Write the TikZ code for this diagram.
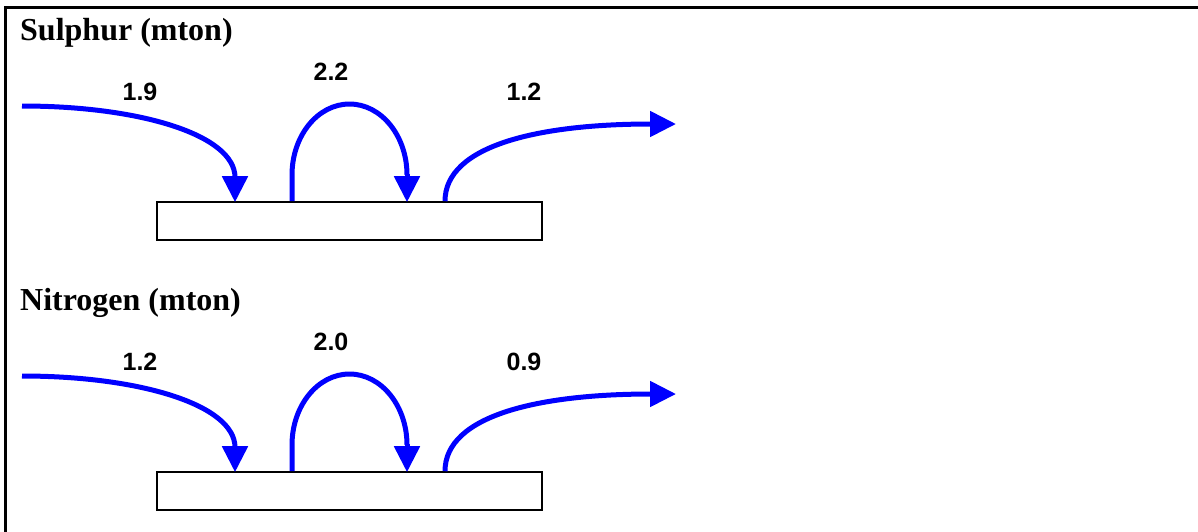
\documentclass[tikz,border=0pt]{standalone}
\usepackage{fontspec}
\setmainfont{Liberation Serif}
\newfontfamily\numfont{Liberation Sans}
\usetikzlibrary{arrows.meta}
\tikzset{
  flow/.style={draw={rgb,255:red,0;green,0;blue,255}, line width=5pt,
    -{Triangle[length=26pt,width=25pt]}},
  flowplain/.style={draw={rgb,255:red,0;green,0;blue,255}, line width=5pt},
  title/.style={anchor=base west, inner sep=0pt, font=\fontsize{32}{38}\selectfont\bfseries},
  num/.style={inner sep=0pt, font=\numfont\fontsize{25}{30}\selectfont\bfseries},
  proc/.style={draw, line width=1.6pt, inner sep=0pt, minimum width=385pt, minimum height=38pt}
}
\begin{document}
\begin{tikzpicture}[x=1pt,y=-1pt]
\useasboundingbox (0,0) rectangle (1198,531);
\draw[line width=3pt] (5,535) -- (5,7) -- (1205,7);
\foreach \i/\ttl/\a/\b/\c in {1/Sulphur (mton)/1.9/2.2/1.2, 2/Nitrogen (mton)/1.2/2.0/0.9}{
\begin{scope}[yshift={-(\i-1)*270pt}]
  \node[title] (t\i) at (20,40) {\ttl};
  \node[proc] (box\i) at (349.5,221) {};
  \coordinate (src\i) at (22,106);
  \coordinate (in\i) at (box\i.north west -| 235,0);
  \coordinate (lo\i) at (box\i.north west -| 292,0);
  \coordinate (li\i) at (box\i.north west -| 407,0);
  \coordinate (out\i) at (box\i.north west -| 445,0);
  \coordinate (snk\i) at (676,124);
  \draw[flow] (src\i) .. controls (140,106) and (235,135) .. ([yshift=-1pt]in\i);
  \draw[flowplain] (lo\i) -- (292,175) arc[start angle=180,end angle=360,x radius=57.5,y radius=71];
  \draw[flow] (407,174) -- ([yshift=-1pt]li\i);
  \draw[flow] (out\i) .. controls (445,145) and (540,124) .. (snk\i);
  \node[num] (a\i) at (140,92) {\a};
  \node[num] (b\i) at (331,72) {\b};
  \node[num] (c\i) at (524,92) {\c};
\end{scope}
}
\end{tikzpicture}
\end{document}
